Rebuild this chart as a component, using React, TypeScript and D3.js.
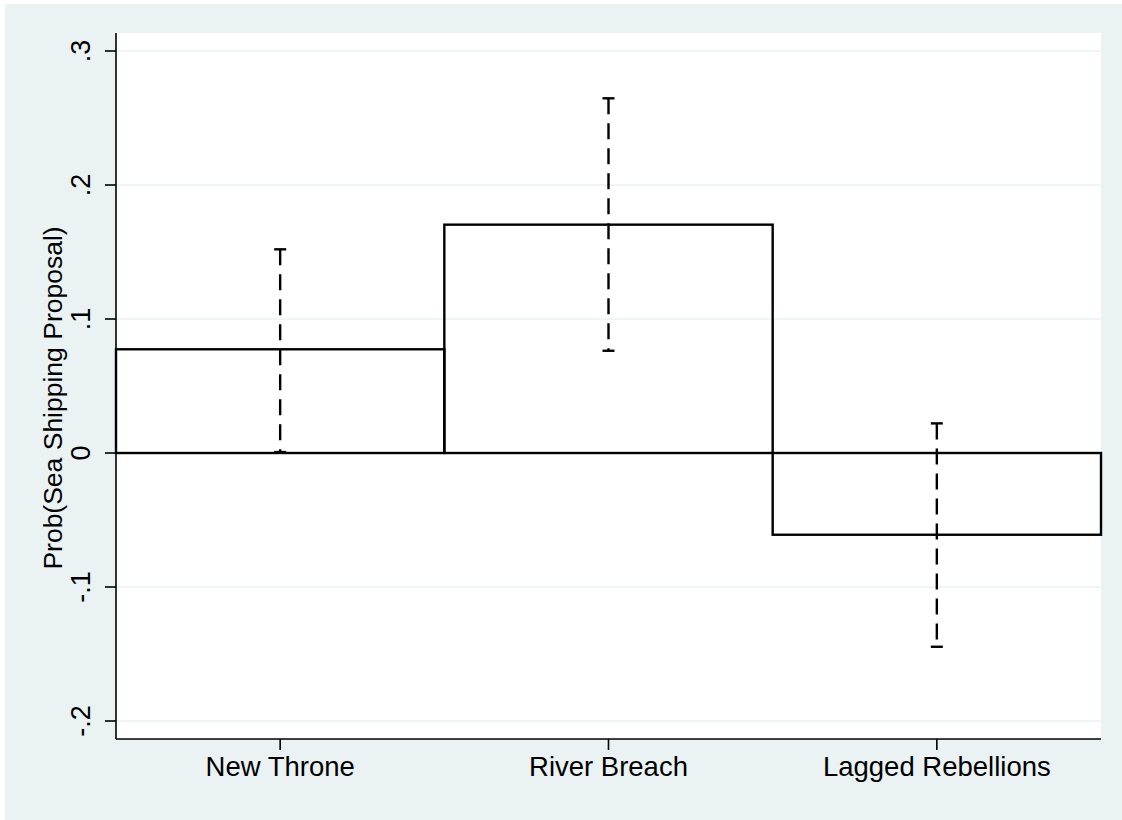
import React from 'react';
import * as d3 from 'd3';

// data
const categories = ['New Throne', 'River Breach', 'Lagged Rebellions'];
const estimates = [0.0774, 0.1704, -0.061];
const ciLower = [0.0007, 0.0763, -0.1446];
const ciUpper = [0.152, 0.2647, 0.0221];
const yTicks = [0.3, 0.2, 0.1, 0, -0.1, -0.2];
const yTickLabels = ['.3', '.2', '.1', '0', '-.1', '-.2'];
const yTitle = 'Prob(Sea Shipping Proposal)';

const W = 1122;
const H = 820;
const BG = '#eaf2f3';
const FONT = '"Liberation Sans", Arial, Helvetica, sans-serif';

export default function App() {
  const plot = { left: 116, right: 1101, top: 33, bottom: 739 };

  const x = d3.scaleBand<string>()
    .domain(categories)
    .range([plot.left, plot.right])
    .padding(0);

  const y = d3.scaleLinear()
    .domain([-0.2, 0.3])
    .range([721, 51]);

  const capHalf = 6;

  return (
    <div style={{ position: 'absolute', left: 0, top: 0, width: W, height: H, overflow: 'hidden' }}>
      <style>{'html,body{margin:0;overflow:hidden;}'}</style>
      <svg width={W} height={H} style={{ display: 'block' }} fontFamily={FONT}>
        <rect x={0} y={0} width={W} height={H} fill="#ffffff" />
        <rect x={5} y={4} width={W - 5} height={H - 4} fill={BG} />
        <rect
          x={plot.left}
          y={plot.top}
          width={plot.right - plot.left}
          height={plot.bottom - plot.top}
          fill="#ffffff"
        />

        {/* grid */}
        {yTicks.map((t) => (
          <line
            key={'g' + t}
            x1={plot.left}
            x2={plot.right}
            y1={y(t)}
            y2={y(t)}
            stroke={BG}
            strokeWidth={1.6}
          />
        ))}

        {/* bars */}
        {categories.map((c, i) => {
          const v = estimates[i];
          const top = Math.min(y(v), y(0));
          const h = Math.abs(y(v) - y(0));
          return (
            <rect
              key={'b' + c}
              x={x(c)}
              y={top}
              width={x.bandwidth()}
              height={h}
              fill="none"
              stroke="#000"
              strokeWidth={2.4}
            />
          );
        })}

        {/* confidence intervals */}
        {categories.map((c, i) => {
          const cx = (x(c) as number) + x.bandwidth() / 2;
          const y1 = y(ciUpper[i]);
          const y2 = y(ciLower[i]);
          return (
            <g key={'e' + c} stroke="#000" strokeWidth={2.4}>
              <line x1={cx} x2={cx} y1={y1} y2={y2} strokeDasharray="16 9" />
              <line x1={cx - capHalf} x2={cx + capHalf} y1={y1} y2={y1} />
              <line x1={cx - capHalf} x2={cx + capHalf} y1={y2} y2={y2} />
            </g>
          );
        })}

        {/* y axis */}
        <line x1={plot.left} x2={plot.left} y1={plot.top} y2={plot.bottom} stroke="#000" strokeWidth={1.6} />
        {yTicks.map((t, i) => (
          <g key={'yt' + t}>
            <line x1={plot.left - 11} x2={plot.left} y1={y(t)} y2={y(t)} stroke="#000" strokeWidth={1.6} />
            <text
              transform={`translate(90,${y(t)}) rotate(-90)`}
              textAnchor="middle"
              fontSize={27}
              fill="#000"
            >
              {yTickLabels[i]}
            </text>
          </g>
        ))}
        <text
          transform={`translate(62,398) rotate(-90)`}
          textAnchor="middle"
          fontSize={26.5}
          fill="#000"
        >
          {yTitle}
        </text>

        {/* x axis */}
        <line x1={plot.left} x2={plot.right} y1={plot.bottom} y2={plot.bottom} stroke="#000" strokeWidth={1.6} />
        {categories.map((c) => {
          const cx = (x(c) as number) + x.bandwidth() / 2;
          return (
            <g key={'xt' + c}>
              <line x1={cx} x2={cx} y1={plot.bottom} y2={plot.bottom + 11} stroke="#000" strokeWidth={1.6} />
              <text x={cx} y={776} textAnchor="middle" fontSize={27.5} fill="#000">
                {c}
              </text>
            </g>
          );
        })}
      </svg>
    </div>
  );
}
